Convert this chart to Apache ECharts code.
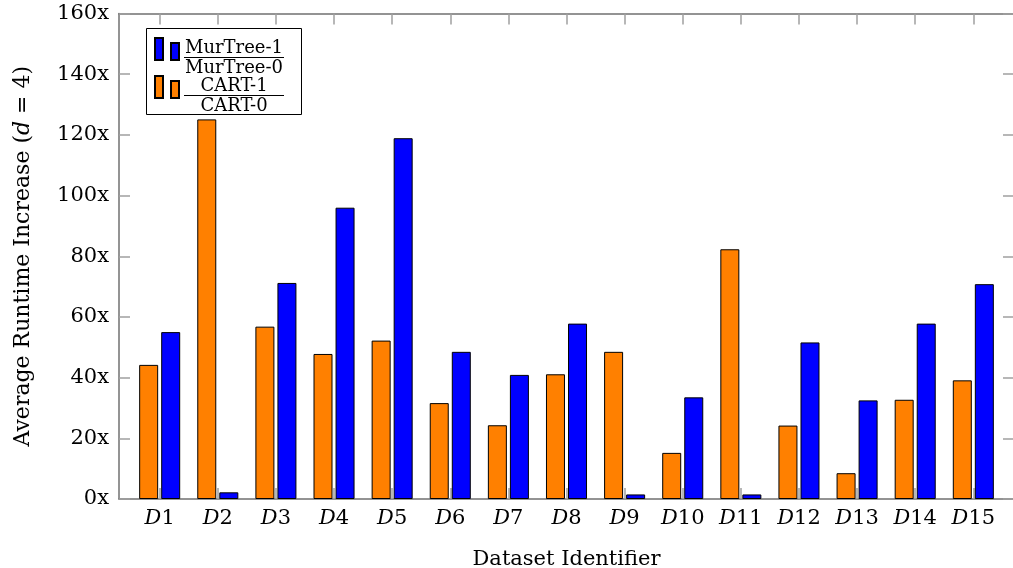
<!DOCTYPE html>
<html>
<head>
<meta charset="utf-8">
<script src="https://cdn.jsdelivr.net/npm/echarts@6/dist/echarts.min.js"></script>
<style>
  html, body { margin: 0; padding: 0; background: #fff; }
  #chart { width: 1013px; height: 568px; }
</style>
</head>
<body>
<div id="chart"></div>
<script>
// datasets D1..D15
const datasets = ['1', '2', '3', '4', '5', '6', '7', '8', '9', '10', '11', '12', '13', '14', '15'];
// CART-1 / CART-0
const cartRatio = [44.2, 125.1, 56.8, 47.8, 52.2, 31.6, 24.3, 41.1, 48.5, 15.2, 82.3, 24.2, 8.5, 32.7, 39.1];
// MurTree-1 / MurTree-0
const murtreeRatio = [55.0, 2.2, 71.2, 96.0, 118.9, 48.5, 40.9, 57.8, 1.5, 33.5, 1.5, 51.6, 32.5, 57.8, 70.8];
const yTicks = [0, 20, 40, 60, 80, 100, 120, 140, 160];

const SERIF = 'DejaVu Serif';
const AXIS = '#707070';
const TICK = '#a0a0a0';
const BAR_ICON = 'path://M0,0H8V22H0Z M16,5H24V22H16Z';
const idx = datasets.map((_, i) => i);

const chart = echarts.init(document.getElementById('chart'));

// stacked fraction: spacer, numerator, rule, denominator
const fracRich = {
  sp: { fontSize: 1, height: 19, lineHeight: 19, width: 100 },
  num: { fontFamily: SERIF, fontSize: 18, lineHeight: 18, width: 100, align: 'center', color: '#000' },
  bar: { fontSize: 1, height: 1, lineHeight: 1, width: 100, backgroundColor: '#000' },
  den: { fontFamily: SERIF, fontSize: 18, lineHeight: 20, width: 100, align: 'center', color: '#000' }
};

const axisLine = { show: true, onZero: false, lineStyle: { color: AXIS, width: 1.5 } };

chart.setOption({
  animation: false,
  grid: { left: 119, top: 13.5, width: 895, height: 485.5, outerBoundsMode: 'none' },
  graphic: [{
    type: 'rect', z: 3,
    shape: { x: 146.5, y: 28.5, width: 155, height: 86 },
    style: { fill: '#fff', stroke: '#000', lineWidth: 1 }
  }],
  legend: {
    orient: 'vertical', left: 154, top: 20, padding: 0,
    itemWidth: 24, itemHeight: 22, itemGap: -19,
    icon: BAR_ICON,
    data: ['MurTree', 'CART'],
    textStyle: { rich: fracRich },
    formatter: name => name === 'MurTree'
      ? '{sp|}\n{num|MurTree-1}\n{bar|}\n{den|MurTree-0}'
      : '{sp|}\n{num|CART-1}\n{bar|}\n{den|CART-0}'
  },
  xAxis: [{
    type: 'value', min: -0.7, max: 14.7,
    name: 'Dataset Identifier', nameLocation: 'middle', nameGap: 50,
    nameTextStyle: { fontFamily: SERIF, fontSize: 21, color: '#000' },
    axisLine: axisLine,
    axisTick: { show: true, inside: true, length: 11, customValues: idx, lineStyle: { color: TICK, width: 1.5 } },
    axisLabel: {
      customValues: idx, margin: 9, color: '#000', fontFamily: SERIF, fontSize: 21,
      formatter: v => '{d|D}' + datasets[Math.round(v)],
      rich: { d: { fontFamily: SERIF, fontStyle: 'italic', fontSize: 21, color: '#000' } }
    },
    splitLine: { show: false }
  }, {
    type: 'value', min: -0.7, max: 14.7, position: 'top',
    axisLine: axisLine,
    axisTick: { show: true, inside: true, length: 11, customValues: idx, lineStyle: { color: TICK, width: 1.5 } },
    axisLabel: { show: false },
    splitLine: { show: false }
  }],
  yAxis: [{
    type: 'value', min: 0, max: 160, interval: 20,
    name: 'Average Runtime Increase ({it|d} = 4)', nameLocation: 'middle', nameGap: 85,
    nameTextStyle: {
      fontFamily: SERIF, fontSize: 22, color: '#000',
      rich: { it: { fontFamily: SERIF, fontStyle: 'italic', fontSize: 22, color: '#000' } }
    },
    axisLine: axisLine,
    axisTick: { show: true, inside: true, length: 11, customValues: yTicks, lineStyle: { color: TICK, width: 1.5 } },
    axisLabel: { margin: 10, color: '#000', fontFamily: SERIF, fontSize: 21, formatter: '{value}x' },
    splitLine: { show: false }
  }, {
    type: 'value', min: 0, max: 160, interval: 20, position: 'right',
    axisLine: axisLine,
    axisTick: { show: true, inside: true, length: 11, lineStyle: { color: TICK, width: 1.5 } },
    axisLabel: { show: false },
    splitLine: { show: false }
  }],
  series: [{
    name: 'CART', type: 'bar', xAxisIndex: 0, yAxisIndex: 0,
    barWidth: 19, barGap: '16%',
    data: cartRatio.map((v, i) => [i, v]),
    itemStyle: { color: '#FF8000', borderColor: '#000', borderWidth: 1 }
  }, {
    name: 'MurTree', type: 'bar', xAxisIndex: 0, yAxisIndex: 0,
    barWidth: 19, barGap: '16%',
    data: murtreeRatio.map((v, i) => [i, v]),
    itemStyle: { color: '#0000FF', borderColor: '#000', borderWidth: 1 }
  }]
});
</script>
</body>
</html>
